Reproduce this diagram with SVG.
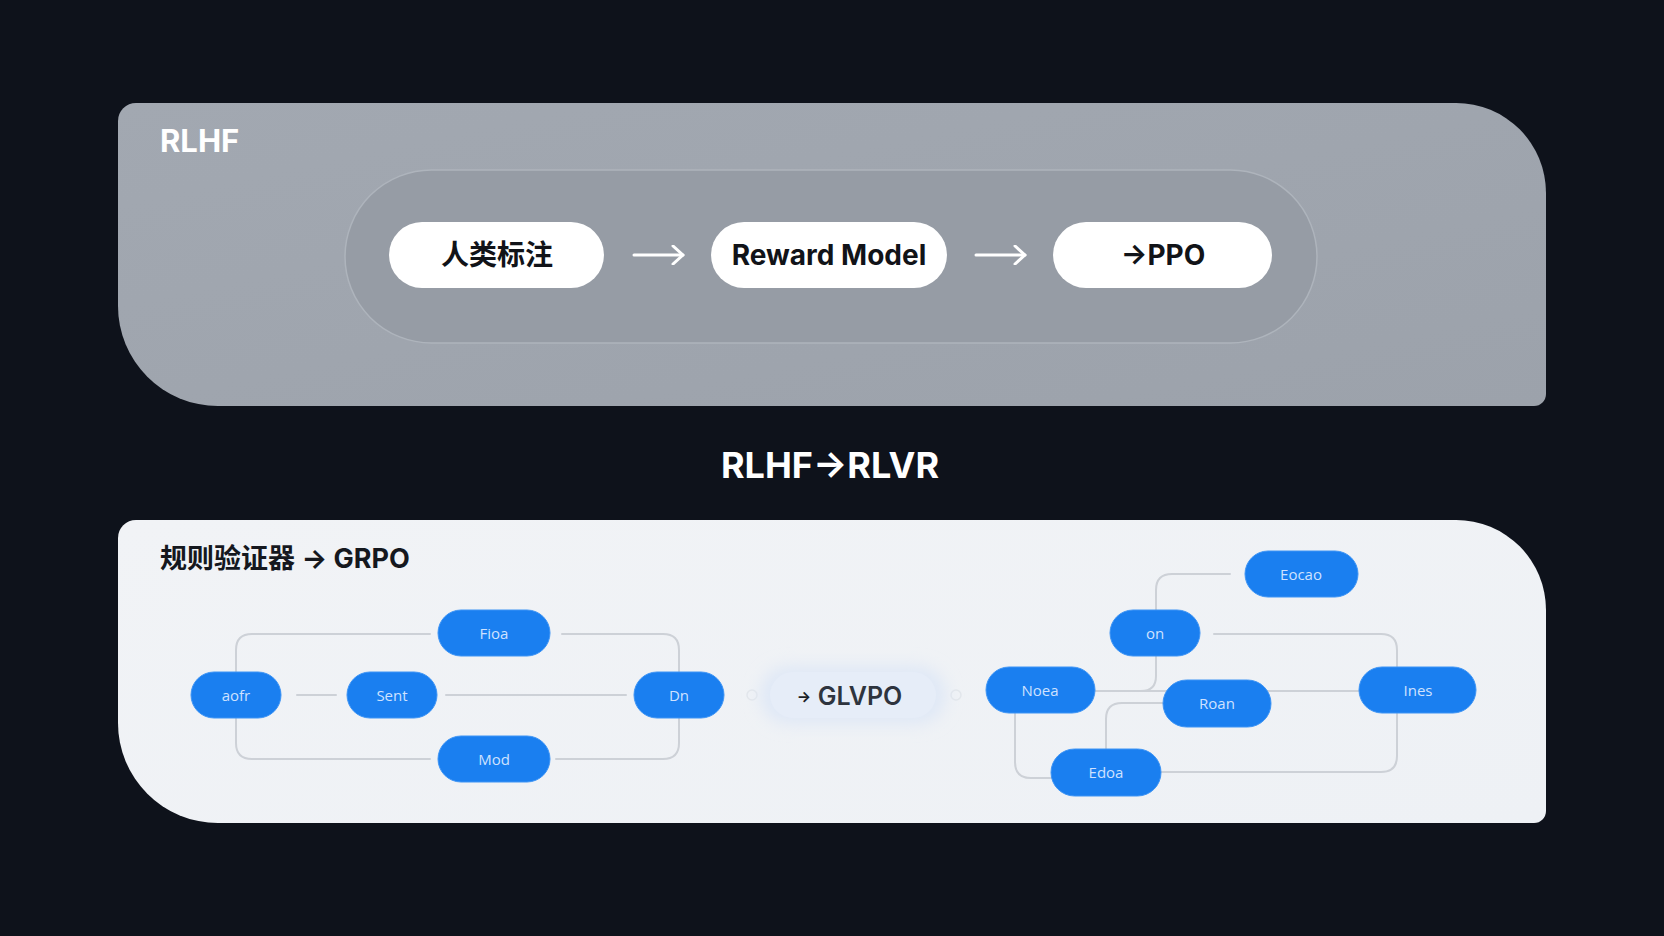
<svg xmlns="http://www.w3.org/2000/svg" width="1664" height="936" viewBox="0 0 1664 936">
<defs>
<linearGradient id="gTop" x1="0" y1="0" x2="1" y2="1">
<stop offset="0" stop-color="#a2a8b1"/>
<stop offset="1" stop-color="#9ca2ab"/>
</linearGradient>
<linearGradient id="gBot" x1="0" y1="0" x2="1" y2="1">
<stop offset="0" stop-color="#f1f3f6"/>
<stop offset="1" stop-color="#eef1f5"/>
</linearGradient>
<filter id="glow" x="-30%" y="-60%" width="160%" height="220%">
<feGaussianBlur stdDeviation="8"/>
</filter>
<marker id="chev" viewBox="0 0 14 20" refX="12" refY="10" markerWidth="14" markerHeight="20" markerUnits="userSpaceOnUse" orient="auto">
<path d="M2 1 L12 10 L2 19" fill="none" stroke="#ffffff" stroke-width="3" stroke-linecap="round" stroke-linejoin="round"/>
</marker>
</defs>
<style>
.title{font-family:Inter,"Noto Sans CJK SC",sans-serif;font-weight:700}
.wpill{fill:#ffffff}
.wtxt{font-family:Inter,"Noto Sans CJK SC",sans-serif;font-weight:700;font-size:28px;fill:#111318;text-anchor:middle;dominant-baseline:central}
.bpill{fill:#1a7ff0;stroke:#3d94f5;stroke-width:1}
.btxt{font-family:"Open Sans",sans-serif;font-weight:400;font-size:15px;fill:#cfe2ff;text-anchor:middle;dominant-baseline:central}
.conn{fill:none;stroke:#cdd1d7;stroke-width:2;stroke-linecap:round;stroke-linejoin:round}
.arrow{fill:none;stroke:#ffffff;stroke-width:3;stroke-linecap:round}
</style>
<rect width="1664" height="936" fill="#0e121b"/>

<g id="panel-rlhf">
<path d="M136 103 H1456 A90 90 0 0 1 1546 193 V394 A12 12 0 0 1 1534 406 H218 A100 100 0 0 1 118 306 V121 A18 18 0 0 1 136 103 Z" fill="url(#gTop)"/>
<text class="title" x="160" y="152" font-size="31" fill="#ffffff">RLHF</text>
<rect x="345" y="170" width="972" height="173" rx="86.5" fill="#969ca5" stroke="#aeb4bc" stroke-width="1.5"/>
</g>

<g id="connectors-top">
<line class="arrow" x1="634" y1="255" x2="683" y2="255" marker-end="url(#chev)"/>
<line class="arrow" x1="976" y1="255" x2="1025" y2="255" marker-end="url(#chev)"/>
</g>

<g id="node-human">
<rect class="wpill" x="389" y="222" width="215" height="66" rx="33"/>
<text class="wtxt" x="497" y="255">人类标注</text>
</g>
<g id="node-reward">
<rect class="wpill" x="711" y="222" width="236" height="66" rx="33"/>
<text class="wtxt" x="829" y="255">Reward Model</text>
</g>
<g id="node-ppo">
<rect class="wpill" x="1053" y="222" width="219" height="66" rx="33"/>
<text class="wtxt" x="1163" y="255">→PPO</text>
</g>

<g id="mid-title">
<text class="title" x="830" y="478" font-size="36" fill="#ffffff" text-anchor="middle">RLHF→RLVR</text>
</g>

<g id="panel-rlvr">
<path d="M136 520 H1456 A90 90 0 0 1 1546 610 V811 A12 12 0 0 1 1534 823 H218 A100 100 0 0 1 118 723 V538 A18 18 0 0 1 136 520 Z" fill="url(#gBot)"/>
<text class="title" x="160" y="568" font-size="27" fill="#15181e">规则验证器 → GRPO</text>
</g>

<g id="connectors-bottom">
<line class="conn" x1="297" y1="695" x2="336" y2="695"/>
<line class="conn" x1="446" y1="695" x2="626" y2="695"/>
<path class="conn" d="M430 634 H252 Q236 634 236 650 V743 Q236 759 252 759 H430"/>
<path class="conn" d="M562 634 H663 Q679 634 679 650 V743 Q679 759 663 759 H556"/>
<path class="conn" d="M1230 574 H1172 Q1156 574 1156 590 V610"/>
<path class="conn" d="M1156 656 V676 Q1156 691 1141 691 H1095"/>
<line class="conn" x1="1095" y1="691" x2="1360" y2="691"/>
<path class="conn" d="M1214 634 H1381 Q1397 634 1397 650 V667"/>
<path class="conn" d="M1397 713 V756 Q1397 772 1381 772 H1161"/>
<path class="conn" d="M1015 713 V762 Q1015 778 1031 778 H1051"/>
<path class="conn" d="M1106 749 V719 Q1106 703 1122 703 H1163"/>
<circle cx="752" cy="695" r="5" fill="none" stroke="#e2e6eb" stroke-width="1.5"/>
<circle cx="956" cy="695" r="5" fill="none" stroke="#e2e6eb" stroke-width="1.5"/>
</g>

<g id="node-glvpo">
<rect x="760" y="666" width="186" height="58" rx="29" fill="#dfe8f6" filter="url(#glow)"/>
<rect x="770" y="672" width="166" height="46" rx="23" fill="#e6edf8"/>
<text x="804" y="696" font-family="Inter,sans-serif" font-weight="700" font-size="15" fill="#1b1f27" text-anchor="middle" dominant-baseline="central">→</text>
<text x="860" y="696" font-family="Inter,sans-serif" font-weight="600" font-size="25" fill="#2e343e" text-anchor="middle" dominant-baseline="central">GLVPO</text>
</g>

<g id="node-aofr"><rect class="bpill" x="191" y="672" width="90" height="46" rx="23"/><text class="btxt" x="236" y="695">aofr</text></g>
<g id="node-sent"><rect class="bpill" x="347" y="672" width="90" height="46" rx="23"/><text class="btxt" x="392" y="695">Sent</text></g>
<g id="node-fioa"><rect class="bpill" x="438" y="610" width="112" height="46" rx="23"/><text class="btxt" x="494" y="633">Fioa</text></g>
<g id="node-mod"><rect class="bpill" x="438" y="736" width="112" height="46" rx="23"/><text class="btxt" x="494" y="759">Mod</text></g>
<g id="node-dn"><rect class="bpill" x="634" y="672" width="90" height="46" rx="23"/><text class="btxt" x="679" y="695">Dn</text></g>

<g id="node-eocao"><rect class="bpill" x="1245" y="551" width="113" height="46" rx="23"/><text class="btxt" x="1301" y="574">Eocao</text></g>
<g id="node-on"><rect class="bpill" x="1110" y="610" width="90" height="46" rx="23"/><text class="btxt" x="1155" y="633">on</text></g>
<g id="node-noea"><rect class="bpill" x="986" y="667" width="109" height="46" rx="23"/><text class="btxt" x="1040" y="690">Noea</text></g>
<g id="node-roan"><rect class="bpill" x="1163" y="680" width="108" height="47" rx="23.5"/><text class="btxt" x="1217" y="703">Roan</text></g>
<g id="node-ines"><rect class="bpill" x="1359" y="667" width="117" height="46" rx="23"/><text class="btxt" x="1418" y="690">Ines</text></g>
<g id="node-edoa"><rect class="bpill" x="1051" y="749" width="110" height="47" rx="23.5"/><text class="btxt" x="1106" y="772">Edoa</text></g>
</svg>
